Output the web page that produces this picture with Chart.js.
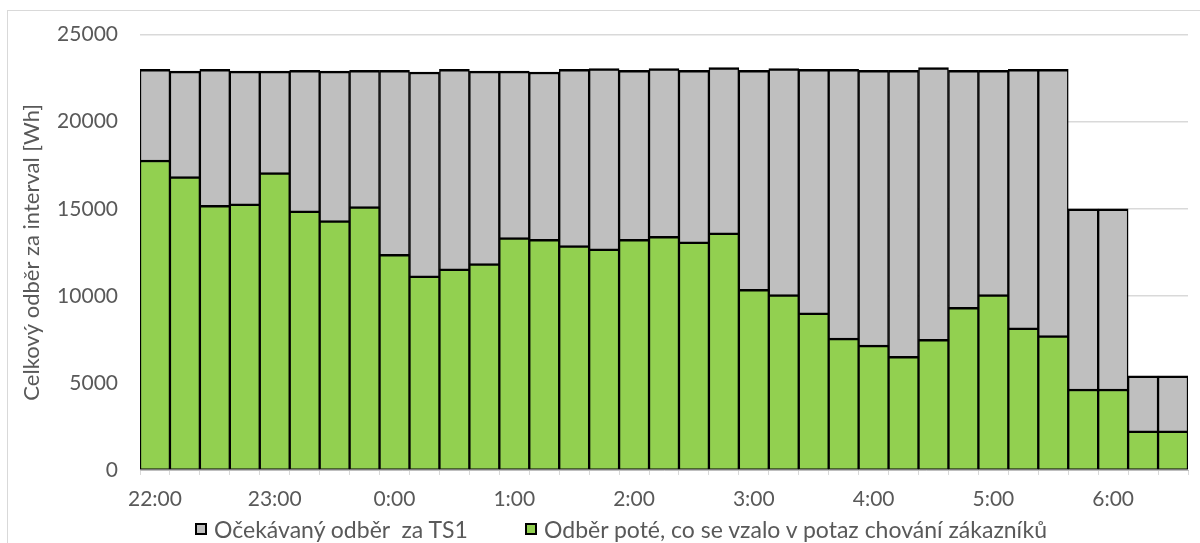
<!DOCTYPE html>
<html>
<head>
<meta charset="utf-8">
<script src="https://cdn.jsdelivr.net/npm/chart.js@4/dist/chart.umd.min.js"></script>
<style>
  html, body { margin: 0; padding: 0; background: #ffffff; }
  #wrap { position: relative; width: 1200px; height: 543px; overflow: hidden; }
  #frame { position: absolute; left: 7px; top: 10px; width: 1200px; height: 540px;
           border: 1px solid #d9d9d9; box-sizing: border-box; pointer-events: none; }
  #c { position: absolute; left: 0; top: 0; }
  #legend { position: absolute; top: 515px; left: 0; width: 1200px; height: 28px;
            font-family: Lato, 'Liberation Sans', sans-serif; color: #595959; }
  .item { position: absolute; top: 0; height: 28px; display: flex; align-items: center; white-space: pre; line-height: 28px; }
  .box { width: 8px; height: 8px; border: 2px solid #000; margin-right: 7px; flex: none; }
</style>
</head>
<body>
<div id="wrap">
  <div id="frame"></div>
  <canvas id="c" width="1200" height="543"></canvas>
  <div id="legend"></div>
</div>
<script>
// Quarter-hour intervals through the night
const categories = [
  '22:00','22:15','22:30','22:45','23:00','23:15','23:30','23:45',
  '0:00','0:15','0:30','0:45','1:00','1:15','1:30','1:45',
  '2:00','2:15','2:30','2:45','3:00','3:15','3:30','3:45',
  '4:00','4:15','4:30','4:45','5:00','5:15','5:30','5:45',
  '6:00','6:15','6:30'
];

// Expected consumption for TS1 [Wh]
const expected = [
  23000, 22900, 23000, 22900, 22900, 22950, 22900, 22950,
  22950, 22850, 23000, 22900, 22900, 22850, 23000, 23050,
  22950, 23050, 22950, 23100, 22950, 23050, 23000, 23000,
  22950, 22950, 23100, 22950, 22950, 23000, 23000, 15000,
  15000, 5400, 5400
];

// Consumption once customer behaviour is taken into account [Wh]
const adjusted = [
  17800, 16850, 15200, 15280, 17080, 14880, 14320, 15120,
  12380, 11150, 11550, 11850, 13350, 13250, 12880, 12700,
  13250, 13420, 13100, 13620, 10380, 10070, 9020, 7570,
  7170, 6520, 7510, 9340, 10070, 8160, 7720, 4650,
  4650, 2250, 2250
];

// Labels shown on the time axis (full hours only)
const hourTicks = ['22:00','23:00','0:00','1:00','2:00','3:00','4:00','5:00','6:00'];

const seriesNames = ['Očekávaný odběr  za TS1', 'Odběr poté, co se vzalo v potaz chování zákazníků'];
const seriesColors = ['#bfbfbf', '#92d050'];

const FONT = 'Lato, "Liberation Sans", sans-serif';
const TEXT = '#595959';

const barBorder = { top: 2.5, left: 1.5, right: 1.5, bottom: 1 };

const chart = new Chart(document.getElementById('c'), {
  type: 'bar',
  data: {
    labels: categories,
    datasets: [
      {
        label: seriesNames[0],
        data: expected,
        backgroundColor: seriesColors[0],
        borderColor: '#000000',
        borderWidth: barBorder,
        borderSkipped: false,
        categoryPercentage: 1,
        barPercentage: 1,
        order: 1
      },
      {
        label: seriesNames[1],
        data: adjusted,
        backgroundColor: seriesColors[1],
        borderColor: '#000000',
        borderWidth: barBorder,
        borderSkipped: false,
        categoryPercentage: 1,
        barPercentage: 1,
        order: 0
      }
    ]
  },
  options: {
    responsive: false,
    animation: false,
    devicePixelRatio: 1,
    layout: { padding: { left: 10, right: 12, top: 33, bottom: 33 } },
    plugins: { legend: { display: false }, tooltip: { enabled: false } },
    scales: {
      x: {
        stacked: true,
        afterFit: s => { s.height = 40; },
        grid: { offset: true, drawOnChartArea: false, drawTicks: true, tickLength: 5, color: '#d9d9d9' },
        border: { display: true, color: '#bfbfbf', width: 1 },
        ticks: {
          autoSkip: false,
          maxRotation: 0,
          padding: 12,
          color: TEXT,
          font: { family: FONT, size: 21 },
          callback: (v, i) => hourTicks.includes(categories[i]) ? categories[i] : ''
        }
      },
      y: {
        stacked: false,
        min: 0,
        max: 25000,
        afterFit: s => { s.width = 130; },
        grid: { color: '#d9d9d9', drawTicks: false, lineWidth: 1.5 },
        border: { display: false },
        ticks: {
          stepSize: 5000,
          padding: 22,
          color: TEXT,
          font: { family: FONT, size: 21 },
          callback: v => String(v)
        },
        title: {
          display: true,
          text: 'Celkový odběr za interval [Wh]',
          color: TEXT,
          font: { family: FONT, size: 22 },
          padding: { top: 9, bottom: 0 }
        }
      }
    }
  }
});

// Legend entries built from the datasets
const legend = document.getElementById('legend');
const legendLeft = [195, 525];
chart.data.datasets.forEach((ds, i) => {
  const item = document.createElement('div');
  item.className = 'item';
  item.style.left = legendLeft[i] + 'px';
  item.style.fontSize = '23px';
  const box = document.createElement('span');
  box.className = 'box';
  box.style.background = ds.backgroundColor;
  const txt = document.createElement('span');
  txt.textContent = ds.label;
  item.appendChild(box);
  item.appendChild(txt);
  legend.appendChild(item);
});
</script>
</body>
</html>
